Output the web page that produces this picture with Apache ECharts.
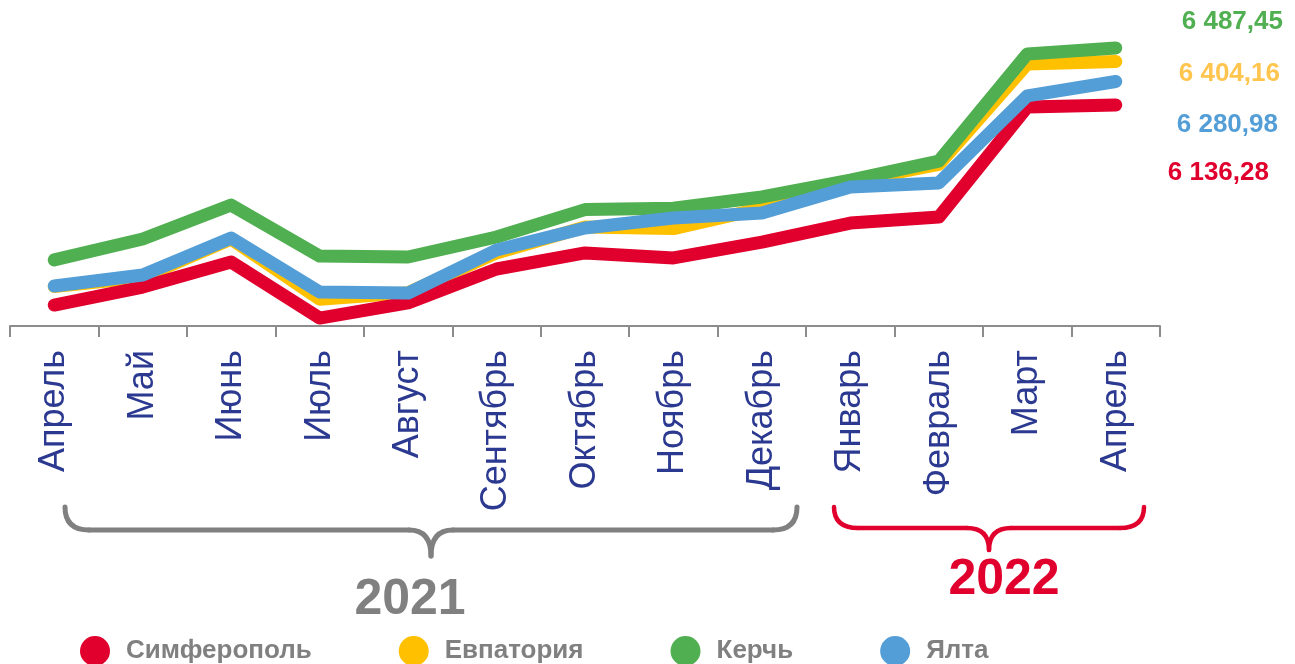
<!DOCTYPE html>
<html>
<head>
<meta charset="utf-8">
<script src="https://cdn.jsdelivr.net/npm/echarts@6/dist/echarts.min.js"></script>
<style>
  html, body { margin: 0; padding: 0; background: #fff; }
  #chart { width: 1295px; height: 664px; }
</style>
</head>
<body>
<div id="chart"></div>
<script>
// месяцы апрель 2021 – апрель 2022
const months = ['Апрель', 'Май', 'Июнь', 'Июль', 'Август', 'Сентябрь', 'Октябрь',
  'Ноябрь', 'Декабрь', 'Январь', 'Февраль', 'Март', 'Апрель'];

const simferopol = [4904, 5015, 5169, 4824, 4917, 5126, 5225, 5194, 5292, 5409, 5446, 6124, 6136.28];
const evpatoria  = [5018, 5075, 5310, 4940, 4980, 5225, 5385, 5375, 5500, 5665, 5770, 6389, 6404.16];
const kerch      = [5182, 5311, 5520, 5206, 5200, 5323, 5492, 5500, 5570, 5674, 5791, 6451, 6487.45];
const yalta      = [5021, 5089, 5317, 4984, 4978, 5243, 5379, 5440, 5471, 5631, 5656, 6192, 6280.98];

const colors = {
  simf: '#E1002D',
  evp: '#FFC000',
  evpText: '#FFC54F',
  kerch: '#50AF50',
  yalta: '#539ED6'
};

const font = "'Liberation Sans', Arial, sans-serif";

// 6487.45 -> "6 487,45"
function fmt(v) {
  const parts = v.toFixed(2).split('.');
  return parts[0].replace(/\B(?=(\d{3})+(?!\d))/g, ' ') + ',' + parts[1];
}

function lineSeries(name, data, color, labelColor, offset, z) {
  return {
    name: name,
    type: 'line',
    data: data,
    z: z,
    symbol: 'none',
    color: color,
    lineStyle: { width: 13, color: color, cap: 'round', join: 'round' },
    endLabel: {
      show: true,
      offset: offset,
      formatter: (p) => fmt(p.value),
      color: labelColor,
      fontFamily: font,
      fontWeight: 'bold',
      fontSize: 26
    }
  };
}

// фигурная скобка: концы x1..x2, верх y0, полка y1, острие y2
function brace(x1, x2, y0, y1, y2, color, w) {
  const mid = (x1 + x2) / 2;
  const r = 24;
  const st = { stroke: color, lineWidth: w, lineCap: 'round', fill: null };
  return [
    { type: 'bezierCurve', shape: { x1: x1, y1: y0, x2: x1 + r, y2: y1, cpx1: x1, cpy1: y1 }, style: st },
    { type: 'line', shape: { x1: x1 + r, y1: y1, x2: mid - 22, y2: y1 }, style: st },
    { type: 'bezierCurve', shape: { x1: mid - 22, y1: y1, x2: mid, y2: y2, cpx1: mid, cpy1: y1 }, style: st },
    { type: 'bezierCurve', shape: { x1: mid + 22, y1: y1, x2: mid, y2: y2, cpx1: mid, cpy1: y1 }, style: st },
    { type: 'line', shape: { x1: mid + 22, y1: y1, x2: x2 - r, y2: y1 }, style: st },
    { type: 'bezierCurve', shape: { x1: x2, y1: y0, x2: x2 - r, y2: y1, cpx1: x2, cpy1: y1 }, style: st }
  ];
}

const chart = echarts.init(document.getElementById('chart'));

chart.setOption({
  animation: false,
  grid: { left: 10, right: 135, top: 0, bottom: 338, containLabel: false, outerBoundsMode: 'none' },
  xAxis: {
    type: 'category',
    data: months,
    boundaryGap: true,
    axisLine: { lineStyle: { color: '#8c8c8c', width: 2 } },
    axisTick: { show: true, length: 11, lineStyle: { color: '#8c8c8c', width: 2 } },
    axisLabel: {
      rotate: 90,
      interval: 0,
      margin: 24,
      color: '#2B3990',
      fontFamily: font,
      fontSize: 36
    }
  },
  yAxis: {
    type: 'value',
    min: 4775,
    max: 6783,
    show: false
  },
  legend: {
    left: 75,
    top: 631,
    icon: 'circle',
    itemWidth: 30,
    itemHeight: 30,
    itemGap: 87,
    textStyle: {
      color: '#808080',
      fontFamily: font,
      fontWeight: 'bold',
      fontSize: 26,
      padding: [0, 0, 0, 11]
    },
    data: ['Симферополь', 'Евпатория', 'Керчь', 'Ялта']
  },
  series: [
    lineSeries('Симферополь', simferopol, colors.simf, colors.simf, [44, 68], 3),
    lineSeries('Евпатория', evpatoria, colors.evp, colors.evpText, [55, 12], 2),
    lineSeries('Керчь', kerch, colors.kerch, colors.kerch, [58, -26], 4),
    lineSeries('Ялта', yalta, colors.yalta, colors.yalta, [53, 43], 5)
  ],
  graphic: [].concat(
    brace(65, 797, 507, 530, 556, '#808080', 5),
    brace(834, 1144, 507, 528, 550, '#E1002D', 4.5),
    [
      {
        type: 'text',
        x: 410, y: 600,
        style: {
          text: '2021', fill: '#808080', font: 'bold 50px ' + font,
          align: 'center', verticalAlign: 'middle'
        }
      },
      {
        type: 'text',
        x: 1004, y: 580,
        style: {
          text: '2022', fill: '#E1002D', font: 'bold 50px ' + font,
          align: 'center', verticalAlign: 'middle'
        }
      }
    ]
  )
});
</script>
</body>
</html>
